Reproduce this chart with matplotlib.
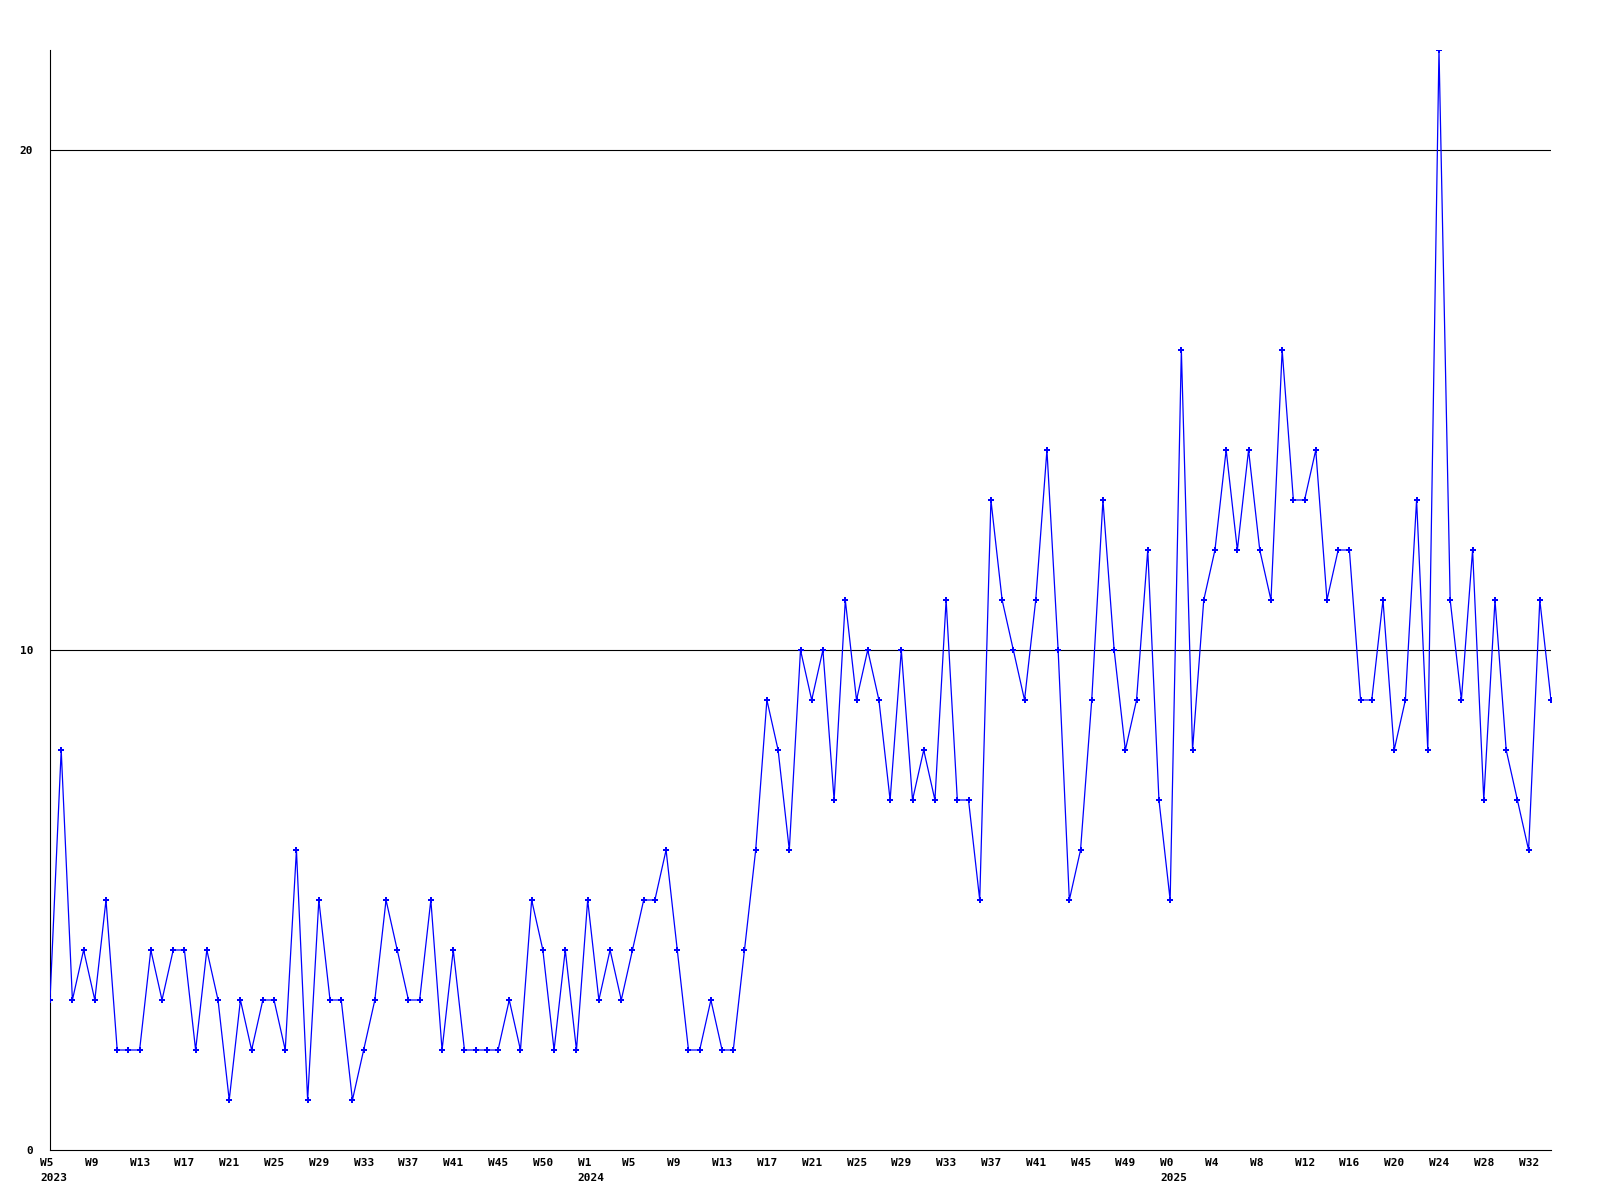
import matplotlib
matplotlib.use("Agg")
import matplotlib.pyplot as plt
from matplotlib.transforms import ScaledTranslation

# weekly values, 2023 W5 .. 2025 W34
values = [
    3, 8, 3, 4, 3, 5, 2, 2, 2, 4, 3, 4, 4, 2, 4, 3, 1, 3, 2, 3, 3, 2, 6, 1, 5, 3, 3, 1, 2, 3, 5, 4,
    3, 3, 5, 2, 4, 2, 2, 2, 2, 3, 2, 5, 4, 2, 4, 2, 5, 3, 4, 3, 4, 5, 5, 6, 4, 2, 2, 3, 2, 2, 4, 6,
    9, 8, 6, 10, 9, 10, 7, 11, 9, 10, 9, 7, 10, 7, 8, 7, 11, 7, 7, 5, 13, 11, 10, 9, 11, 14, 10, 5,
    6, 9, 13, 10, 8, 9, 12, 7,
    5, 16, 8, 11, 12, 14, 12, 14, 12, 11, 16, 13, 13, 14, 11, 12, 12, 9, 9, 11, 8, 9, 13, 8, 22, 11,
    9, 12, 7, 11, 8, 7, 6, 11, 9,
]

# x tick labels, one every 4 points
week_labels = ["W5", "W9", "W13", "W17", "W21", "W25", "W29", "W33", "W37", "W41", "W45", "W50",
               "W1", "W5", "W9", "W13", "W17", "W21", "W25", "W29", "W33", "W37", "W41", "W45", "W49",
               "W0", "W4", "W8", "W12", "W16", "W20", "W24", "W28", "W32"]
year_labels = {0: "2023", 12: "2024", 25: "2025"}

y_ticks = [0, 10, 20]

font = "DejaVu Sans Mono"

fig = plt.figure(figsize=(16, 12), dpi=100)
ax = fig.add_axes([50 / 1600, 50 / 1200, 1501 / 1600, 1100 / 1200])

x = list(range(len(values)))
ax.plot(x, values, color="#0000ff", lw=0.9, marker="P", markersize=4,
        markeredgewidth=0, markerfacecolor="#0000ff", zorder=3)

ax.set_xlim(0, len(values) - 1)
ax.set_ylim(0, 22)

for v in y_ticks[1:]:
    ax.axhline(v, color="black", lw=0.8, zorder=2)

for s in ["top", "right"]:
    ax.spines[s].set_visible(False)
for s in ["left", "bottom"]:
    ax.spines[s].set_color("black")
    ax.spines[s].set_linewidth(0.8)

ax.set_yticks(y_ticks)
ax.set_yticklabels([str(v) for v in y_ticks], fontfamily=font, fontweight="bold", fontsize=8)
ax.tick_params(axis="y", length=0, pad=12)

tick_pos = [4 * i for i in range(len(week_labels))]
labels = []
for i, lab in enumerate(week_labels):
    if i in year_labels:
        labels.append(lab + "\n" + year_labels[i])
    else:
        labels.append(lab)
ax.set_xticks(tick_pos)
ax.set_xticklabels(labels, fontfamily=font, fontweight="bold", fontsize=8,
                   ha="left", multialignment="left", linespacing=1.6)
ax.tick_params(axis="x", length=0, pad=6)
offset = ScaledTranslation(-10 / 100, 0, fig.dpi_scale_trans)
for lbl in ax.get_xticklabels():
    lbl.set_transform(lbl.get_transform() + offset)

fig.savefig("out.png", dpi=100, facecolor="white")
